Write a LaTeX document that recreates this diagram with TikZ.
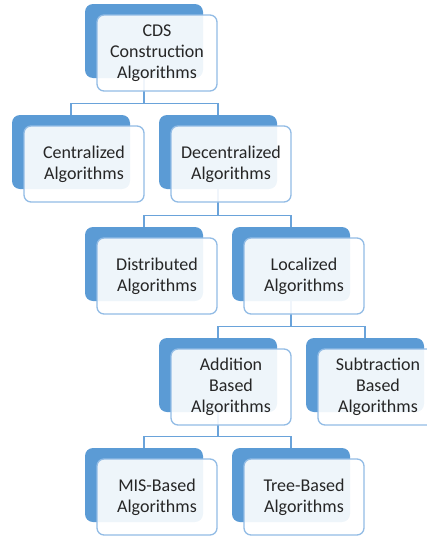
\documentclass[tikz,border=0pt]{standalone}
\usepackage{fontspec}
\setmainfont{Carlito}
\usetikzlibrary{positioning}
\definecolor{boxblue}{HTML}{5B9BD5}
\definecolor{edgeblue}{HTML}{92BCE5}
\definecolor{linkblue}{HTML}{6AA3DA}
\tikzset{
  backbox/.style={fill=boxblue, draw=none, rounded corners=8pt,
    minimum width=118pt, minimum height=74pt, inner sep=0pt},
  frontbox/.style={fill=white, fill opacity=0.9, text opacity=1,
    draw=edgeblue, line width=1.3pt, rounded corners=7pt,
    minimum width=120pt, minimum height=76pt, inner sep=0pt,
    align=center, text=black!85, font=\fontsize{18}{21}\selectfont},
  link/.style={draw=linkblue, line width=1.3pt}
}
\begin{document}
\begin{tikzpicture}[x=1pt, y=-1pt]
  \clip (0,0) rectangle (427,538);
  \node[backbox] (cds) at (144,41) {};
  \node[backbox] (cen) at (71,152) {};
  \node[backbox] (dec) at (218,152) {};
  \node[backbox] (dis) at (144,264) {};
  \node[backbox] (loc) at (291,264) {};
  \node[backbox] (add) at (218,375) {};
  \node[backbox] (sub) at (365,375) {};
  \node[backbox] (mis) at (144,485) {};
  \node[backbox] (tre) at (291,485) {};
  % tree links
  \begin{scope}[link]
    \draw (cds.south) -- ++(0,25) -| (cen.north);
    \draw (cds.south) -- ++(0,25) -| (dec.north);
    \draw (dec.south) -- ++(0,26) -| (dis.north);
    \draw (dec.south) -- ++(0,26) -| (loc.north);
    \draw (loc.south) -- ++(0,25) -| (add.north);
    \draw (loc.south) -- ++(0,25) -| (sub.north);
    \draw (add.south) -- ++(0,24) -| (mis.north);
    \draw (add.south) -- ++(0,24) -| (tre.north);
  \end{scope}
  \node[frontbox] (cdsf) at ([shift={(13,12)}]cds) {CDS\\Construction\\Algorithms};
  \node[frontbox] (cenf) at ([shift={(13,12)}]cen) {Centralized\\Algorithms};
  \node[frontbox] (decf) at ([shift={(13,12)}]dec) {Decentralized\\Algorithms};
  \node[frontbox] (disf) at ([shift={(13,12)}]dis) {Distributed\\Algorithms};
  \node[frontbox] (locf) at ([shift={(13,12)}]loc) {Localized\\Algorithms};
  \node[frontbox] (addf) at ([shift={(13,12)}]add) {Addition\\Based\\Algorithms};
  \node[frontbox] (subf) at ([shift={(13,12)}]sub) {Subtraction\\Based\\Algorithms};
  \node[frontbox] (misf) at ([shift={(13,12)}]mis) {MIS-Based\\Algorithms};
  \node[frontbox] (tref) at ([shift={(13,12)}]tre) {Tree-Based\\Algorithms};
\end{tikzpicture}
\end{document}
